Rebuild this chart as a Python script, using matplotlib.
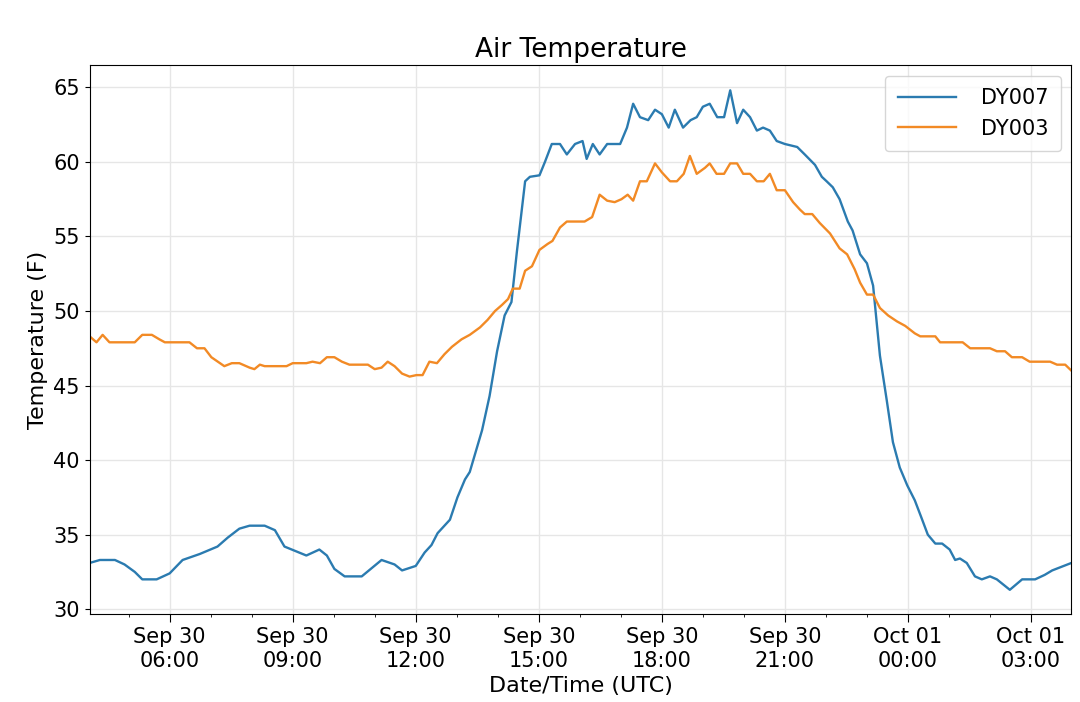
import numpy as np
import pandas as pd
import matplotlib
matplotlib.use('Agg')
import matplotlib.pyplot as plt
import matplotlib.dates as mdates

# minutes after 2019-09-30 04:00 UTC, and temperatures (F)
START = pd.Timestamp('2019-09-30 04:00')

dy007_min = [3, 18, 40, 54, 69, 80, 101, 120, 139, 164, 190, 205, 222, 237, 259, 274, 288, 320, 339, 350,
             361, 376, 401, 430, 449, 460, 480, 493, 503, 512, 530, 541, 552, 559, 577, 588, 599, 610, 620, 628,
             640, 647, 661, 669, 679, 691, 701, 713, 724, 730, 739, 749, 760, 779, 789, 798, 808, 820, 830, 840,
             850, 859, 871, 882, 891, 900, 910, 921, 931, 940, 950, 959, 969, 979, 988, 998, 1008, 1020, 1038, 1049,
             1064, 1074, 1081, 1090, 1100, 1112, 1119, 1130, 1140, 1149, 1159, 1169, 1178, 1188, 1199, 1210, 1220, 1229, 1240, 1250,
             1261, 1269, 1276, 1286, 1298, 1308, 1320, 1330, 1349, 1367, 1386, 1400, 1411, 1439]
dy007_val = [33.1, 33.3, 33.3, 33.0, 32.5, 32.0, 32.0, 32.4, 33.3, 33.7, 34.2, 34.8, 35.4, 35.6, 35.6, 35.3, 34.2, 33.6, 34.0, 33.6,
             32.7, 32.2, 32.2, 33.3, 33.0, 32.6, 32.9, 33.8, 34.3, 35.1, 36.0, 37.5, 38.7, 39.2, 42.0, 44.3, 47.3, 49.7, 50.6, 54.0,
             58.7, 59.0, 59.1, 60.0, 61.2, 61.2, 60.5, 61.2, 61.4, 60.2, 61.2, 60.5, 61.2, 61.2, 62.3, 63.9, 63.0, 62.8, 63.5, 63.2,
             62.3, 63.5, 62.3, 62.8, 63.0, 63.7, 63.9, 63.0, 63.0, 64.8, 62.6, 63.5, 63.0, 62.1, 62.3, 62.1, 61.4, 61.2, 61.0, 60.5,
             59.8, 59.0, 58.7, 58.3, 57.5, 56.0, 55.4, 53.8, 53.2, 51.7, 47.0, 44.0, 41.2, 39.5, 38.3, 37.3, 36.1, 35.0, 34.4, 34.4,
             34.0, 33.3, 33.4, 33.1, 32.2, 32.0, 32.2, 32.0, 31.3, 32.0, 32.0, 32.3, 32.6, 33.1]

dy003_min = [3, 13, 22, 32, 69, 80, 94, 105, 113, 149, 160, 171, 181, 200, 211, 222, 237, 244, 252, 259,
             291, 300, 320, 329, 340, 350, 361, 372, 383, 410, 420, 430, 439, 449, 460, 471, 481, 490, 500, 511,
             522, 533, 547, 559, 574, 585, 596, 606, 615, 622, 632, 640, 650, 661, 673, 680, 691, 701, 727, 738,
             749, 760, 771, 781, 790, 798, 808, 818, 830, 840, 852, 862, 872, 881, 891, 903, 910, 920, 931, 940,
             950, 959, 969, 979, 989, 998, 1008, 1020, 1032, 1042, 1049, 1060, 1071, 1086, 1100, 1111, 1122, 1130, 1140, 1149,
             1159, 1171, 1184, 1196, 1210, 1218, 1240, 1247, 1280, 1291, 1320, 1330, 1342, 1352, 1367, 1378, 1408, 1418, 1430, 1439]
dy003_val = [48.3, 47.9, 48.4, 47.9, 47.9, 48.4, 48.4, 48.1, 47.9, 47.9, 47.5, 47.5, 46.9, 46.3, 46.5, 46.5, 46.2, 46.1, 46.4, 46.3,
             46.3, 46.5, 46.5, 46.6, 46.5, 46.9, 46.9, 46.6, 46.4, 46.4, 46.1, 46.2, 46.6, 46.3, 45.8, 45.6, 45.7, 45.7, 46.6, 46.5,
             47.1, 47.6, 48.1, 48.4, 48.9, 49.4, 50.0, 50.4, 50.8, 51.5, 51.5, 52.7, 53.0, 54.1, 54.5, 54.7, 55.6, 56.0, 56.0, 56.3,
             57.8, 57.4, 57.3, 57.5, 57.8, 57.4, 58.7, 58.7, 59.9, 59.3, 58.7, 58.7, 59.2, 60.4, 59.2, 59.6, 59.9, 59.2, 59.2, 59.9,
             59.9, 59.2, 59.2, 58.7, 58.7, 59.2, 58.1, 58.1, 57.3, 56.8, 56.5, 56.5, 55.9, 55.2, 54.2, 53.8, 52.8, 51.9, 51.1, 51.1,
             50.2, 49.7, 49.3, 49.0, 48.5, 48.3, 48.3, 47.9, 47.9, 47.5, 47.5, 47.3, 47.3, 46.9, 46.9, 46.6, 46.6, 46.4, 46.4, 46.0]

t007 = START + pd.to_timedelta(dy007_min, unit='min')
t003 = START + pd.to_timedelta(dy003_min, unit='min')

fig = plt.figure(figsize=(10.8, 7.02), dpi=100)
ax = fig.add_axes([0.083, 0.125, 0.909, 0.782])
ax.plot(t007, dy007_val, color='#2b7bb0', lw=1.7, label='DY007')
ax.plot(t003, dy003_val, color='#f28a25', lw=1.7, label='DY003')

ax.set_xlim(t007[0], t007[-1])
ax.set_ylim(29.66, 66.48)
ax.xaxis.set_major_locator(mdates.HourLocator(byhour=[0, 3, 6, 9, 12, 15, 18, 21]))
ax.xaxis.set_minor_locator(mdates.HourLocator())
ax.xaxis.set_major_formatter(mdates.DateFormatter('%b %d\n%H:%M'))
ax.tick_params(labelsize=15)
ax.tick_params(axis='x', which='major', length=6)
ax.grid(True, color='#e6e6e6', lw=1)

ax.set_title('Air Temperature', fontsize=19)
ax.set_xlabel('Date/Time (UTC)', fontsize=16)
ax.set_ylabel('Temperature (F)', fontsize=16)
ax.legend(fontsize=15, loc='upper right', handlelength=2.8, handletextpad=1.2, borderpad=0.6)

fig.savefig('out.png')
